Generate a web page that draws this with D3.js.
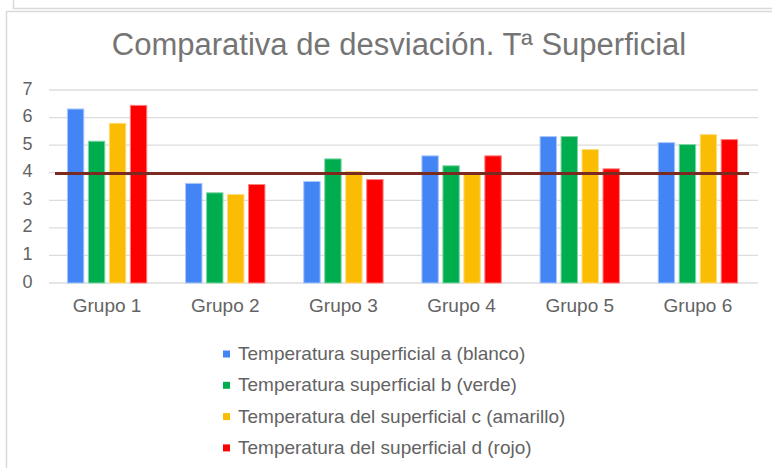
<!DOCTYPE html>
<html>
<head>
<meta charset="utf-8">
<script src="https://cdn.jsdelivr.net/npm/d3@7"></script>
<style>
  body { margin: 0; background: #fff; }
  svg { display: block; font-family: "Liberation Sans", Arial, sans-serif; }
</style>
</head>
<body>
<div id="container"></div>
<script>
const groups = ["Grupo 1", "Grupo 2", "Grupo 3", "Grupo 4", "Grupo 5", "Grupo 6"];
const seriesNames = [
  "Temperatura superficial a (blanco)",
  "Temperatura superficial b (verde)",
  "Temperatura del superficial c (amarillo)",
  "Temperatura del superficial d (rojo)"
];
const valuesA = [6.33, 3.63, 3.70, 4.63, 5.33, 5.11];
const valuesB = [5.16, 3.29, 4.52, 4.27, 5.33, 5.04];
const valuesC = [5.81, 3.23, 4.06, 3.97, 4.86, 5.40];
const valuesD = [6.46, 3.59, 3.77, 4.63, 4.16, 5.22];
const threshold = 3.97;
const yTicks = [0, 1, 2, 3, 4, 5, 6, 7];
const colors = ["#4385f4", "#00ad4e", "#fbbc04", "#ff0000"];
const strokes = ["#a9c8fa", "#7fd6a6", "#fddd81", "#ff8080"];

const W = 772, H = 468;
const series = [valuesA, valuesB, valuesC, valuesD];

const svg = d3.select("#container").append("svg")
  .attr("width", W).attr("height", H);

// frames
svg.append("path").attr("d", "M13.5,0V8.5H772").attr("fill", "none")
  .attr("stroke", "#d9d9d9").attr("stroke-width", 1.5);
svg.append("path").attr("d", "M6.5,468V11.5H772").attr("fill", "none")
  .attr("stroke", "#d9d9d9").attr("stroke-width", 1.5);

svg.append("text")
  .attr("x", 399).attr("y", 55)
  .attr("text-anchor", "middle")
  .attr("font-size", 31)
  .attr("fill", "#757575")
  .text("Comparativa de desviación. Tª Superficial");

const x0 = d3.scaleBand().domain(groups).range([48, 757]).paddingInner(0.32).paddingOuter(0.16);
const x1 = d3.scaleBand().domain(d3.range(series.length)).range([0, x0.bandwidth()]).paddingInner(0.17);
const y = d3.scaleLinear().domain([0, 7]).range([283, 90]);

// gridlines
svg.append("g").selectAll("line").data(yTicks).join("line")
  .attr("x1", 49).attr("x2", 758)
  .attr("y1", d => y(d)).attr("y2", d => y(d))
  .attr("stroke", "#dcdcdc").attr("stroke-width", 1.3);

// y axis labels
svg.append("g").selectAll("text").data(yTicks).join("text")
  .attr("x", 32.5).attr("y", d => y(d) + 4.5)
  .attr("text-anchor", "end")
  .attr("font-size", 18)
  .attr("fill", "#636363")
  .text(d => d);

// x axis labels
svg.append("g").selectAll("text").data(groups).join("text")
  .attr("x", d => x0(d) + x0.bandwidth() / 2).attr("y", 312)
  .attr("text-anchor", "middle")
  .attr("font-size", 19)
  .attr("fill", "#636363")
  .text(d => d);

// bars
const gGroups = svg.append("g").selectAll("g").data(groups).join("g")
  .attr("transform", d => `translate(${x0(d)},0)`);
gGroups.selectAll("rect")
  .data((g, gi) => series.map((s, si) => ({ si, v: s[gi] })))
  .join("rect")
  .attr("x", d => x1(d.si) + 0.5)
  .attr("width", x1.bandwidth() - 1)
  .attr("y", d => y(d.v) + 0.5)
  .attr("height", d => y(0) - y(d.v) - 0.5)
  .attr("fill", d => colors[d.si])
  .attr("stroke", d => strokes[d.si])
  .attr("stroke-width", 1);

// reference line
svg.append("line")
  .attr("x1", 55).attr("x2", 749)
  .attr("y1", y(threshold)).attr("y2", y(threshold))
  .attr("stroke", "#7b2a22").attr("stroke-width", 3);

// legend
const legend = svg.append("g").selectAll("g").data(seriesNames).join("g")
  .attr("transform", (d, i) => `translate(223,${354 + i * 31.3})`);
legend.append("rect")
  .attr("x", 0).attr("y", -3.5).attr("width", 7).attr("height", 7)
  .attr("fill", (d, i) => colors[i]);
legend.append("text")
  .attr("x", 15).attr("y", 6)
  .attr("font-size", 19)
  .attr("fill", "#636363")
  .text(d => d);
</script>
</body>
</html>
